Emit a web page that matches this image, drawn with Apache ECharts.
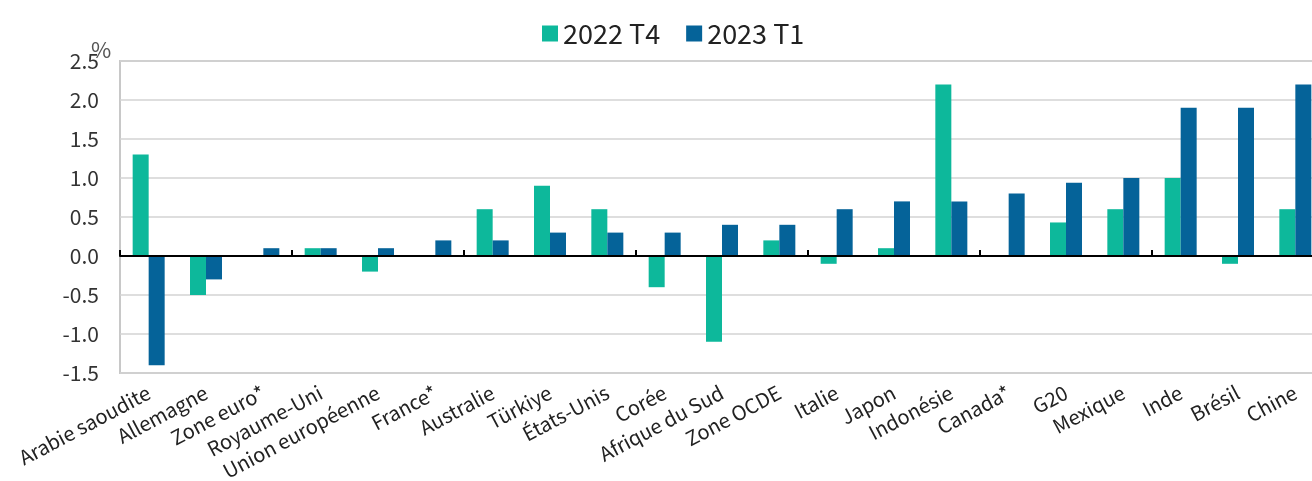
<!DOCTYPE html>
<html>
<head>
<meta charset="utf-8">
<script src="https://cdn.jsdelivr.net/npm/echarts@6/dist/echarts.min.js"></script>
<style>
html,body{margin:0;padding:0;background:#fff;}
#chart{width:1312px;height:481px;}
</style>
</head>
<body>
<div id="chart"></div>
<script>
const categories = ["Arabie saoudite","Allemagne","Zone euro*","Royaume-Uni","Union européenne","France*","Australie","Türkiye","États-Unis","Corée","Afrique du Sud","Zone OCDE","Italie","Japon","Indonésie","Canada*","G20","Mexique","Inde","Brésil","Chine"];
const seriesNames = ["2022 T4","2023 T1"];
const q4_2022 = [1.3,-0.5,null,0.1,-0.2,null,0.6,0.9,0.6,-0.4,-1.1,0.2,-0.1,0.1,2.2,null,0.43,0.6,1.0,-0.1,0.6];
const q1_2023 = [-1.4,-0.3,0.1,0.1,0.1,0.2,0.2,0.3,0.3,0.3,0.4,0.4,0.6,0.7,0.7,0.8,0.94,1.0,1.9,1.9,2.2];
const yTicks = {min:-1.5, max:2.5, interval:0.5};
const unitLabel = "%";

const FONT = '"Noto Sans CJK JP","Noto Sans",sans-serif';
const chart = echarts.init(document.getElementById('chart'), null, {renderer:'canvas'});
chart.setOption({
  animation:false,
  textStyle:{fontFamily:FONT},
  legend:{
    data:seriesNames,
    left:537, top:15,
    itemWidth:16, itemHeight:16, itemGap:26,
    icon:'rect',
    textStyle:{fontFamily:FONT,fontSize:27,color:'#222'}
  },
  graphic:[{type:'text',left:91,top:39,style:{text:unitLabel,fontFamily:FONT,fontSize:22,fill:'#555'}}],
  grid:{left:120, top:61, width:1204, height:312, outerBoundsMode:'none', containLabel:false,
        show:true, borderColor:'#c8c8c8', borderWidth:2, backgroundColor:'transparent'},
  xAxis:[{
    type:'category', data:categories,
    axisLine:{onZero:true, lineStyle:{color:'#000',width:2}},
    axisTick:{show:true, inside:true, length:6, lineStyle:{color:'#000',width:2}},
    axisLabel:{show:false},
    splitLine:{show:false}, z:10
  },{
    type:'category', data:categories, position:'bottom',
    axisLine:{show:false, onZero:false}, axisTick:{show:false},
    axisLabel:{show:true, interval:0, rotate:28, margin:18, fontFamily:FONT, fontSize:20, color:'#222'}
  }],
  yAxis:{
    type:'value', min:yTicks.min, max:yTicks.max, interval:yTicks.interval,
    axisLine:{show:false}, axisTick:{show:false},
    axisLabel:{margin:21, fontFamily:FONT, fontSize:21, color:'#333', formatter:v=>v.toFixed(1)},
    splitLine:{lineStyle:{color:'#d3d3d3',width:1.5}}
  },
  series:[
    {name:seriesNames[0], type:'bar', data:q4_2022, barWidth:16, barGap:'0%', itemStyle:{color:'#0db89b'}},
    {name:seriesNames[1], type:'bar', data:q1_2023, barWidth:16, barGap:'0%', itemStyle:{color:'#056399'}}
  ]
});
</script>
</body>
</html>
